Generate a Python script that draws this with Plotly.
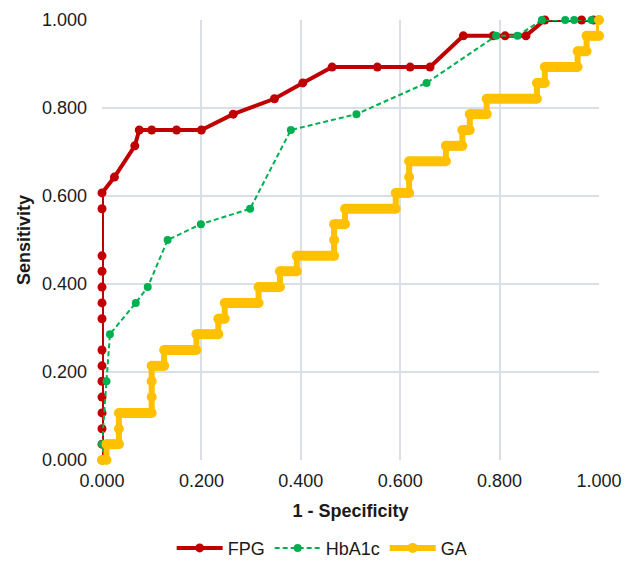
import plotly.graph_objects as go

# ROC coordinates (1 - specificity, sensitivity) for each marker
fpg_fpr = [0, 0, 0, 0, 0, 0, 0, 0, 0, 0, 0, 0, 0, 0, 0,
           0.025, 0.066, 0.075, 0.100, 0.150, 0.200, 0.264, 0.347, 0.404,
           0.463, 0.554, 0.620, 0.660, 0.727, 0.787, 0.811, 0.853,
           0.891, 0.965, 0.989, 1.000]
fpg_tpr = [0.000, 0.036, 0.071, 0.107, 0.143, 0.179, 0.214, 0.250,
           0.321, 0.357, 0.393, 0.429, 0.464, 0.571, 0.607,
           0.643, 0.714, 0.750, 0.750, 0.750, 0.750, 0.786, 0.821, 0.857,
           0.893, 0.893, 0.893, 0.893, 0.964, 0.964, 0.964, 0.964,
           1.000, 1.000, 1.000, 1.000]

hba1c_fpr = [0, 0, 0.009, 0.016, 0.068, 0.092, 0.132, 0.199, 0.298,
             0.380, 0.512, 0.653, 0.793, 0.836, 0.885, 0.932, 0.950,
             0.985, 1.000]
hba1c_tpr = [0.000, 0.036, 0.179, 0.286, 0.357, 0.393, 0.500, 0.536, 0.571,
             0.750, 0.786, 0.857, 0.964, 0.964, 1.000, 1.000, 1.000,
             1.000, 1.000]

ga_fpr = [0, 0.009, 0.009, 0.034, 0.034, 0.034, 0.100, 0.100, 0.100, 0.100,
          0.125, 0.125, 0.190, 0.190, 0.234, 0.234, 0.247, 0.247, 0.315,
          0.315, 0.358, 0.358, 0.392, 0.392, 0.467, 0.467, 0.467, 0.489,
          0.489, 0.591, 0.591, 0.618, 0.618, 0.618, 0.692, 0.692, 0.725,
          0.725, 0.740, 0.740, 0.774, 0.774, 0.875, 0.875, 0.891, 0.891,
          0.957, 0.957, 0.975, 0.975, 1.000, 1.000]
ga_tpr = [0.000, 0.000, 0.036, 0.036, 0.071, 0.107, 0.107, 0.143, 0.179, 0.214,
          0.214, 0.250, 0.250, 0.286, 0.286, 0.321, 0.321, 0.357, 0.357,
          0.393, 0.393, 0.429, 0.429, 0.464, 0.464, 0.500, 0.536, 0.536,
          0.571, 0.571, 0.607, 0.607, 0.643, 0.679, 0.679, 0.714, 0.714,
          0.750, 0.750, 0.786, 0.786, 0.821, 0.821, 0.857, 0.857, 0.893,
          0.893, 0.929, 0.929, 0.964, 0.964, 1.000]

tick_vals = [0, 0.2, 0.4, 0.6, 0.8, 1.0]
tick_text = ["0.000", "0.200", "0.400", "0.600", "0.800", "1.000"]

RED = "#C00000"
GREEN = "#00B050"
GOLD = "#FFC000"
FONT = "Liberation Sans, Arial, sans-serif"
TEXT = "#1A1A1A"

fig = go.Figure()

fig.add_trace(go.Scatter(
    x=fpg_fpr, y=fpg_tpr, name="FPG", mode="lines+markers",
    line=dict(color=RED, width=4), marker=dict(color=RED, size=9),
    cliponaxis=False))

fig.add_trace(go.Scatter(
    x=hba1c_fpr, y=hba1c_tpr, name="HbA1c", mode="lines+markers",
    line=dict(color=GREEN, width=2, dash="5px,3px"),
    marker=dict(color=GREEN, size=8), cliponaxis=False))

# Flat runs of the GA curve are packed with cut-off points; draw them as
# thick bars built from the consecutive points that share a sensitivity.
bar_x, bar_y = [], []
for i in range(len(ga_fpr) - 1):
    if ga_tpr[i] == ga_tpr[i + 1] and ga_fpr[i] != ga_fpr[i + 1]:
        bar_x += [ga_fpr[i], ga_fpr[i + 1], None]
        bar_y += [ga_tpr[i], ga_tpr[i + 1], None]

fig.add_trace(go.Scatter(
    x=ga_fpr, y=ga_tpr, name="GA", mode="lines+markers",
    line=dict(color=GOLD, width=6), marker=dict(color=GOLD, size=10),
    cliponaxis=False))
fig.add_trace(go.Scatter(
    x=bar_x, y=bar_y, mode="lines", showlegend=False, hoverinfo="skip",
    line=dict(color=GOLD, width=10), cliponaxis=False))

axis_common = dict(
    range=[0, 1], tickvals=tick_vals, ticktext=tick_text,
    showgrid=True, gridcolor="#D9DEE7", gridwidth=1.5,
    zeroline=False, ticks="", showline=False,
    tickfont=dict(family=FONT, size=18, color=TEXT),
)

fig.update_xaxes(
    **axis_common, ticklabelstandoff=8,
    title=dict(text="<b>1 - Specificity</b>", standoff=14,
               font=dict(family=FONT, size=18, color=TEXT)),
)
fig.update_yaxes(
    **axis_common, ticklabelstandoff=14,
    title=dict(text="<b>Sensitivity</b>", standoff=6,
               font=dict(family=FONT, size=18, color=TEXT)),
)

fig.update_layout(
    width=634, height=564,
    margin=dict(l=102, r=35, t=20, b=104, autoexpand=False),
    paper_bgcolor="white", plot_bgcolor="white",
    font=dict(family=FONT, size=18, color=TEXT),
    showlegend=True,
    legend=dict(orientation="h", x=0.443, xanchor="center",
                yref="container", y=0.028, yanchor="middle",
                font=dict(family=FONT, size=18, color=TEXT),
                itemwidth=46),
)

fig.write_html("out.html")
